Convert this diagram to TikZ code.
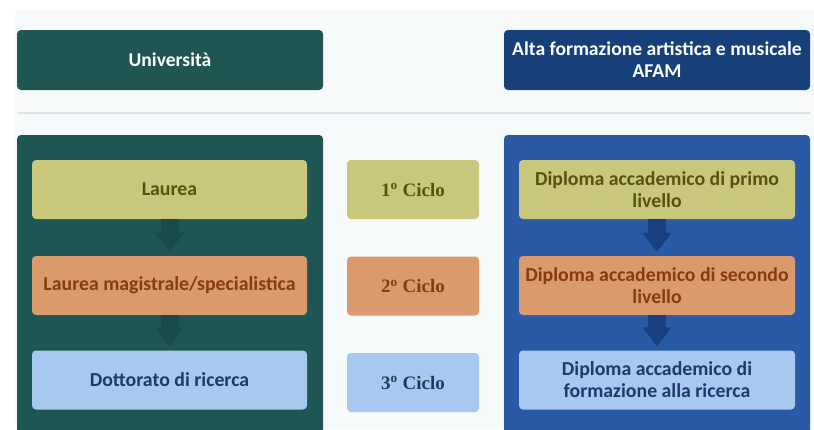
\documentclass[tikz,border=0pt]{standalone}
\usepackage{fontspec}
\setmainfont{Carlito}
\newfontfamily\ciclofont{Liberation Serif}
\usetikzlibrary{arrows.meta}
\definecolor{bgc}{HTML}{F7FAFB}
\definecolor{teal}{HTML}{1F5552}
\definecolor{tealarrow}{HTML}{1A4B4A}
\definecolor{navy}{HTML}{173F7A}
\definecolor{bluepanel}{HTML}{2A5AA6}
\definecolor{bluearrow}{HTML}{1A3F80}
\definecolor{khaki}{HTML}{C9C77B}
\definecolor{khakitext}{HTML}{5A5012}
\definecolor{orangebox}{HTML}{DA9A6B}
\definecolor{orangetext}{HTML}{873B12}
\definecolor{lightblue}{HTML}{A8C9EF}
\definecolor{bluetext}{HTML}{1E3A68}
\definecolor{sepline}{HTML}{DFE3E5}
\tikzset{
  header/.style={rounded corners=4pt, minimum width=306pt, minimum height=60pt, text=white, font=\bfseries\fontsize{19.6}{22}\selectfont, align=center, inner sep=0pt},
  inner/.style={rounded corners=4pt, minimum width=275pt, minimum height=59pt, font=\bfseries\fontsize{19.8}{22}\selectfont, align=center, inner sep=0pt},
  ciclo/.style={rounded corners=4pt, minimum width=132pt, minimum height=59pt, font=\ciclofont\bfseries\fontsize{19}{22}\selectfont, inner sep=0pt},
  lvl1/.style={fill=khaki, text=khakitext},
  lvl2/.style={fill=orangebox, text=orangetext},
  lvl3/.style={fill=lightblue, text=bluetext},
  blockarrow/.style={line width=18pt, -{Triangle[width=28pt,length=19pt]}, shorten >=4pt}
}
\begin{document}
\begin{tikzpicture}[x=1pt,y=-1pt]
\useasboundingbox (0,0) rectangle (814,429);
\clip (0,0) rectangle (814,429);
\fill[white] (0,0) rectangle (814,429);
\fill[bgc] (15,10) rectangle (814,429);
% headers
\node[header, fill=teal] (uni) at (170,60) {Università};
\node[header, fill=navy] (afam) at (657,60) {Alta formazione artistica e musicale\\AFAM};
% separator
\coordinate (sepL) at (17,113);
\coordinate (sepR) at (810,113);
\draw[sepline, line width=1.5pt] (sepL) -- (sepR);
% panels
\fill[teal, rounded corners=4pt] (17,135) rectangle (323,450);
\fill[bluepanel, rounded corners=4pt] (504,135) rectangle (810,450);
% left column
\node[inner, lvl1] (laurea) at (169.5,189.5) {Laurea};
\node[inner, lvl2] (mag) at (169.5,285.5) {Laurea magistrale/specialistica};
\node[inner, lvl3] (dott) at (169.5,380) {Dottorato di ricerca};
% middle
\node[ciclo, lvl1] (c1) at (413,189.5) {1\textsuperscript{o} Ciclo};
\node[ciclo, lvl2] (c2) at (413,286) {2\textsuperscript{o} Ciclo};
\node[ciclo, lvl3] (c3) at (413,382.5) {3\textsuperscript{o} Ciclo};
% right column
\node[inner, lvl1, minimum width=276pt] (d1) at (657,189.5) {Diploma accademico di primo\\livello};
\node[inner, lvl2, minimum width=276pt] (d2) at (657,285.5) {Diploma accademico di secondo\\livello};
\node[inner, lvl3, minimum width=276pt] (d3) at (657,380) {Diploma accademico di\\formazione alla ricerca};
% arrows
\draw[blockarrow, tealarrow] (laurea.south) -- (mag.north);
\draw[blockarrow, tealarrow] (mag.south) -- (dott.north);
\draw[blockarrow, bluearrow] (d1.south) -- (d2.north);
\draw[blockarrow, bluearrow] (d2.south) -- (d3.north);
\end{tikzpicture}
\end{document}
